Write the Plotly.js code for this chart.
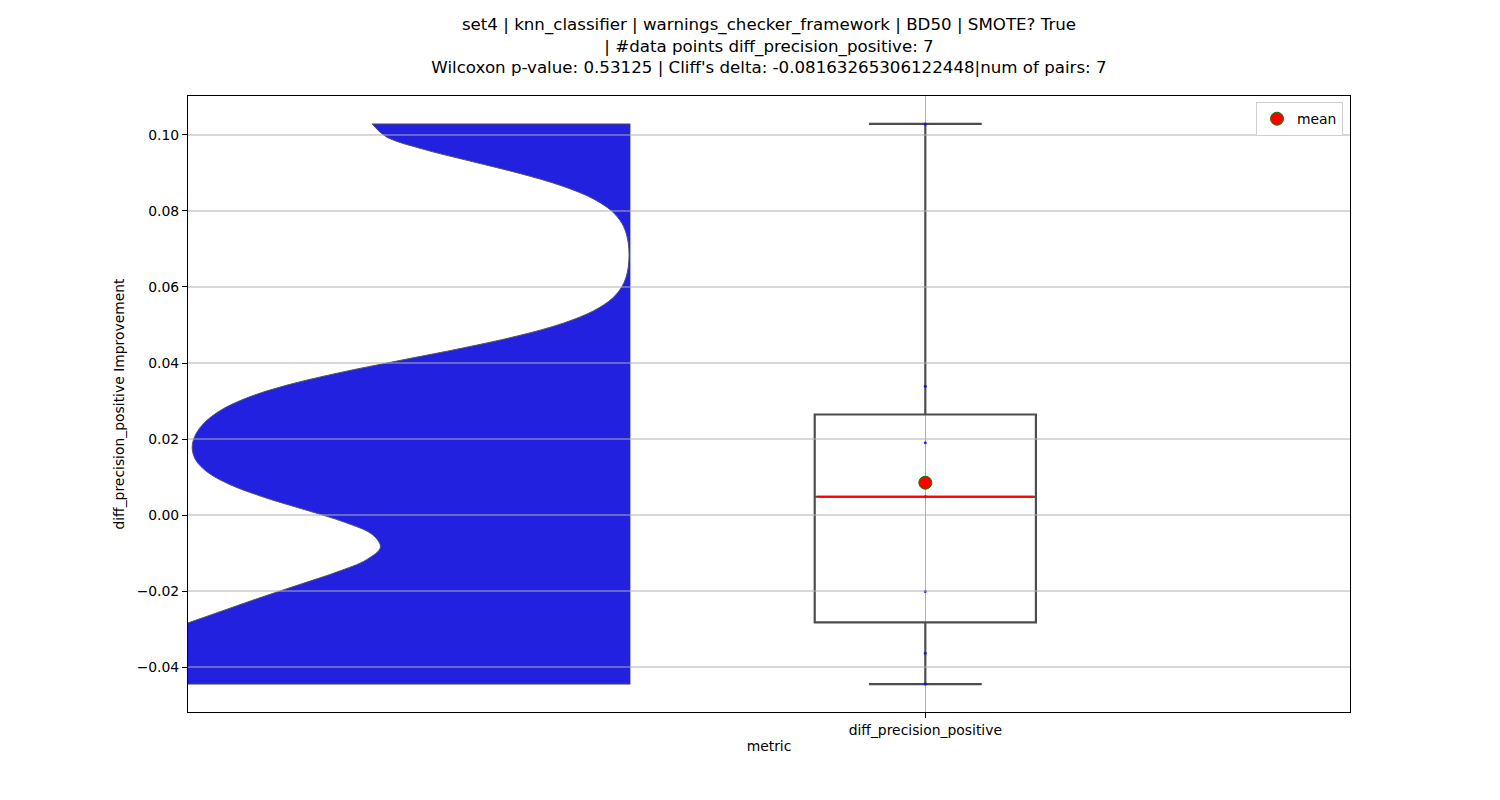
<!DOCTYPE html>
<html><head><meta charset="utf-8">
<script src="https://cdn.plot.ly/plotly-3.0.1.min.js"></script>
<style>html,body{margin:0;padding:0;background:#fff}#chart{width:1500px;height:800px}</style>
</head><body><div id="chart"></div>
<script>
const categories = ["diff_precision_positive"];
const diffValues = [0.1029, 0.0339, 0.0190, 0.0048, -0.0201, -0.0364, -0.0445];
const yTicks = [-0.04, -0.02, 0.00, 0.02, 0.04, 0.06, 0.08, 0.10];
const titleLines = [
  "set4 | knn_classifier | warnings_checker_framework | BD50 | SMOTE? True",
  "| #data points diff_precision_positive: 7",
  "Wilcoxon p-value: 0.53125 | Cliff's delta: -0.08163265306122448|num of pairs: 7"
];
const legendLabels = ["mean"];
const axisTitles = {x: "metric", y: "diff_precision_positive Improvement"};

// derived statistics
const sorted = diffValues.slice().sort((a, b) => a - b);
function quantile(arr, q) {
  const pos = (arr.length - 1) * q, lo = Math.floor(pos), hi = Math.ceil(pos);
  return arr[lo] + (arr[hi] - arr[lo]) * (pos - lo);
}
const median = quantile(sorted, 0.5);
const mean = diffValues.reduce((s, v) => s + v, 0) / diffValues.length;

const boxPos = 0, violinPos = -0.5, boxWidth = 0.375;
const FONT = "DejaVu Sans, sans-serif";
const FS_TICK = 13.9, FS_TITLE = 16.67;

const traces = [
  {
    type: "violin", y: diffValues, x0: violinPos, side: "negative",
    width: 1.75, bandwidth: 0.01, spanmode: "hard", scalemode: "width",
    points: false, box: {visible: false}, meanline: {visible: false},
    fillcolor: "#2121df", line: {color: "#555555", width: 1},
    hoverinfo: "skip", showlegend: false
  },
  {
    type: "box", y: diffValues, x0: boxPos, width: boxWidth,
    quartilemethod: "inclusive", boxpoints: "all", jitter: 0, pointpos: 0,
    whiskerwidth: 0.51, fillcolor: "rgba(0,0,0,0)",
    line: {color: "#4d4d4d", width: 2.2},
    marker: {color: "blue", size: 3, opacity: 0.8},
    hoverinfo: "skip", showlegend: false
  },
  {
    type: "scatter", mode: "lines",
    x: [boxPos - boxWidth / 2 + 0.004, boxPos + boxWidth / 2 - 0.004], y: [median, median],
    line: {color: "red", width: 2}, hoverinfo: "skip", showlegend: false
  },
  {
    type: "scatter", mode: "markers", name: legendLabels[0],
    x: [boxPos], y: [mean],
    marker: {color: "red", size: 13, line: {color: "green", width: 1}},
    showlegend: true
  }
];

const shapes = yTicks.map(v => ({
  type: "line", xref: "paper", x0: 0, x1: 1, yref: "y", y0: v, y1: v,
  line: {color: "#b0b0b0", width: 1}, layer: "above"
}));

const layout = {
  width: 1500, height: 800,
  paper_bgcolor: "white", plot_bgcolor: "white",
  margin: {l: 188, r: 150, t: 96, b: 88},
  font: {family: FONT, size: FS_TICK, color: "black"},
  title: {
    text: titleLines.join("<br>"), font: {family: FONT, size: FS_TITLE, color: "black"},
    x: 0.5, xref: "paper", xanchor: "center",
    y: 1 - 30 / 800, yref: "container", yanchor: "top"
  },
  showlegend: true,
  legend: {
    x: 0.994, y: 0.99, xanchor: "right", yanchor: "top",
    bgcolor: "white", bordercolor: "#d0d0d0", borderwidth: 1,
    font: {family: FONT, size: FS_TICK}
  },
  xaxis: {
    type: "linear", range: [-1.25, 0.72],
    tickvals: [boxPos], ticktext: categories,
    showgrid: true, gridcolor: "#b0b0b0", gridwidth: 1, zeroline: false,
    showline: true, mirror: true, linecolor: "black", linewidth: 1,
    ticks: "outside", ticklen: 5, tickcolor: "black",
    tickfont: {family: FONT, size: FS_TICK},
    title: {text: axisTitles.x, font: {family: FONT, size: FS_TICK}, standoff: 4}
  },
  yaxis: {
    range: [-0.05184, 0.11026],
    tickvals: yTicks, tickformat: ".2f",
    showgrid: false, zeroline: false,
    showline: true, mirror: true, linecolor: "black", linewidth: 1,
    ticks: "outside", ticklen: 5, tickcolor: "black",
    tickfont: {family: FONT, size: FS_TICK},
    title: {text: axisTitles.y, font: {family: FONT, size: FS_TICK}, standoff: 8}
  },
  shapes: shapes
};

Plotly.newPlot("chart", traces, layout, {displayModeBar: false, staticPlot: true});
</script>
</body></html>
